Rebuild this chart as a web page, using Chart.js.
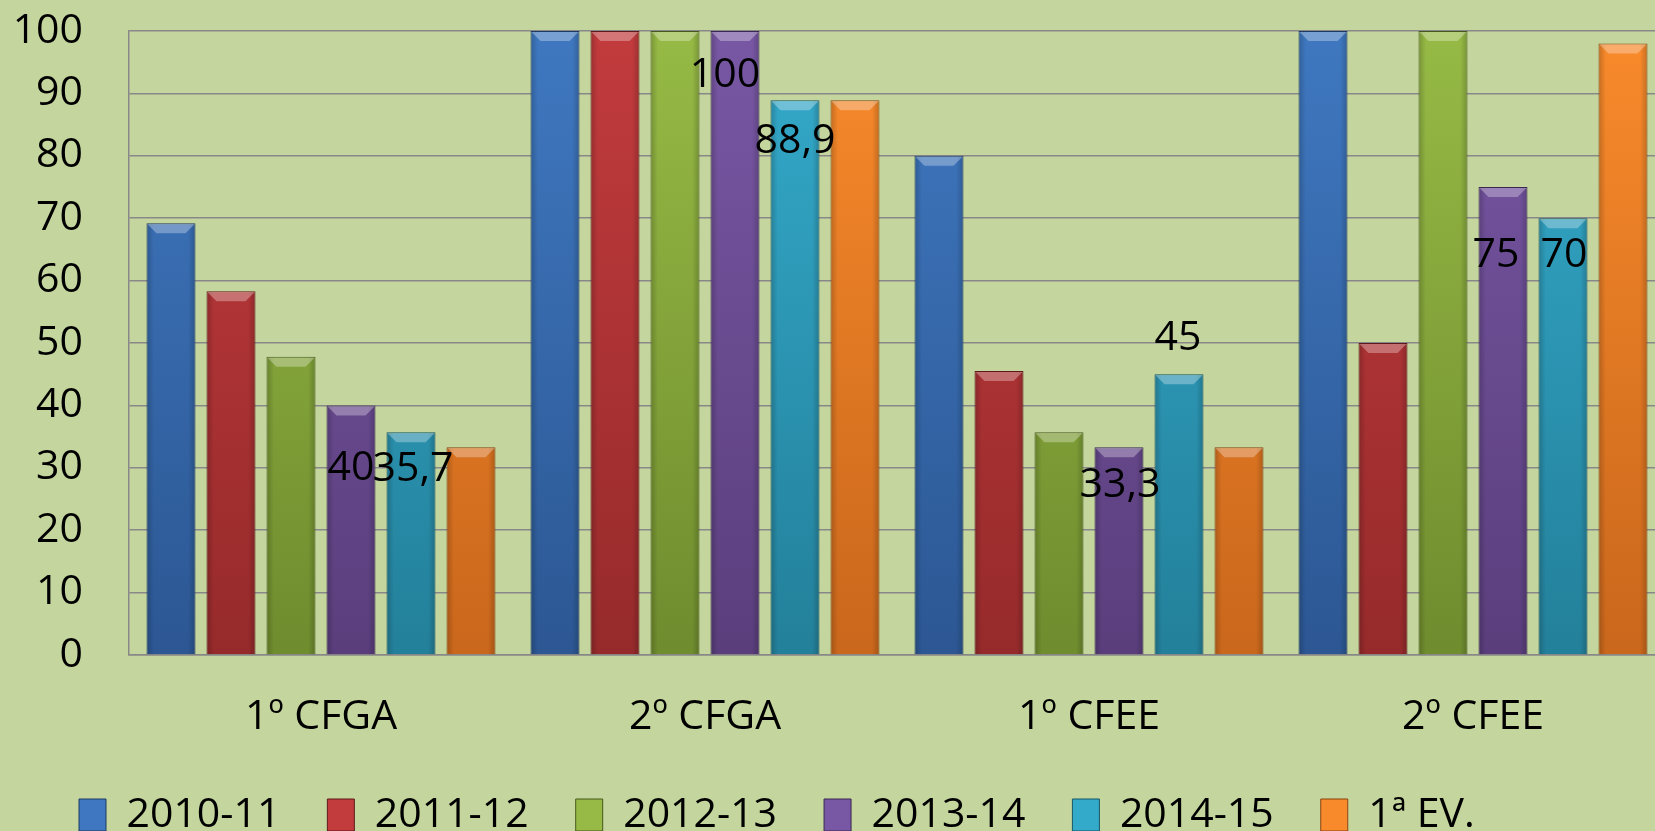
<!DOCTYPE html>
<html>
<head>
<meta charset="utf-8">
<script src="https://cdn.jsdelivr.net/npm/chart.js@4.4.1/dist/chart.umd.min.js"></script>
<style>
  html, body { margin: 0; padding: 0; background: #c4d69e; overflow: hidden; }
  #wrap { width: 1670px; height: 831px; }
</style>
</head>
<body>
<div id="wrap"><canvas id="chart"></canvas></div>
<script>
const categories = ["1º CFGA", "2º CFGA", "1º CFEE", "2º CFEE"];
const seriesNames = ["2010-11", "2011-12", "2012-13", "2013-14", "2014-15", "1ª EV."];

const v2010 = [69.2, 100, 80, 100];
const v2011 = [58.3, 100, 45.5, 50];
const v2012 = [47.8, 100, 35.7, 100];
const v2013 = [40, 100, 33.3, 75];
const v2014 = [35.7, 88.9, 45, 70];
const v1ev = [33.3, 88.9, 33.3, 98];

const yTicks = [0, 10, 20, 30, 40, 50, 60, 70, 80, 90, 100];

// only these two series carry value labels in the original
const labelledSeries = [3, 4];
// where Excel dropped each label, pixels from the bar top (x, y)
const labelShift = {
  3: [[0, 60], [-10, 41], [1, 35], [-7, 65]],
  4: [[2, 34], [0, 38], [-1, -39], [1, 34]],
};

const palette = [
  { top: "#3f78c0", bottom: "#2c5793", edge: "#1d3a63" },
  { top: "#c23b3d", bottom: "#962a2b", edge: "#5e1a1b" },
  { top: "#96ba45", bottom: "#6f8c2e", edge: "#47591d" },
  { top: "#7857a4", bottom: "#5a3e7c", edge: "#3a2852" },
  { top: "#34aacb", bottom: "#23809a", edge: "#155466" },
  { top: "#f88a2b", bottom: "#c9671c", edge: "#874412" },
];

const font = "'Open Sans', 'Liberation Sans', sans-serif";

function barFill(i) {
  return (ctx) => {
    const area = ctx.chart.chartArea;
    if (!area) return palette[i].top;
    const g = ctx.chart.ctx.createLinearGradient(0, area.top, 0, area.bottom);
    g.addColorStop(0, palette[i].top);
    g.addColorStop(1, palette[i].bottom);
    return g;
  };
}

const seriesValues = [v2010, v2011, v2012, v2013, v2014, v1ev];

const datasets = seriesValues.map((vals, i) => ({
  label: seriesNames[i],
  data: vals,
  backgroundColor: barFill(i),
  borderColor: palette[i].edge,
  borderWidth: 1,
  categoryPercentage: 0.9375,
  barPercentage: 0.817,
}));

// bevelled top + darker sides, like the Office 3D style
const bevelPlugin = {
  id: "bevel",
  afterDatasetsDraw(chart) {
    const c = chart.ctx;
    chart.data.datasets.forEach((ds, di) => {
      chart.getDatasetMeta(di).data.forEach((bar) => {
        const w = bar.width, x0 = bar.x - w / 2, x1 = bar.x + w / 2;
        const top = bar.y, bottom = bar.base, b = 10;
        c.save();
        const side = c.createLinearGradient(x0, 0, x1, 0);
        side.addColorStop(0, "rgba(0,0,0,0.2)");
        side.addColorStop(0.15, "rgba(0,0,0,0)");
        side.addColorStop(0.85, "rgba(0,0,0,0)");
        side.addColorStop(1, "rgba(0,0,0,0.2)");
        c.fillStyle = side;
        c.fillRect(x0 + 1, top + 1, w - 2, bottom - top - 1);
        c.beginPath();
        c.moveTo(x0 + 1, top + 1);
        c.lineTo(x1 - 1, top + 1);
        c.lineTo(x1 - b, top + b);
        c.lineTo(x0 + b, top + b);
        c.closePath();
        c.fillStyle = "rgba(255,255,255,0.3)";
        c.fill();
        c.restore();
      });
    });
  },
};

const valueLabels = {
  id: "valueLabels",
  afterDatasetsDraw(chart) {
    const c = chart.ctx;
    c.save();
    c.font = "41px " + font;
    c.fillStyle = "#000";
    c.textAlign = "center";
    c.textBaseline = "alphabetic";
    labelledSeries.forEach((di) => {
      chart.getDatasetMeta(di).data.forEach((bar, j) => {
        const txt = String(chart.data.datasets[di].data[j]).replace(".", ",");
        const [dx, dy] = labelShift[di][j];
        c.fillText(txt, bar.x + dx, bar.y + dy + 15);
      });
    });
    c.restore();
  },
};

// legend starts a bit right of the y axis box in the original
const legendShift = {
  id: "legendShift",
  afterLayout(chart) {
    chart.legend.left += 32;
    chart.legend.right += 32;
  },
};

new Chart(document.getElementById("chart"), {
  type: "bar",
  data: { labels: categories, datasets: datasets },
  plugins: [bevelPlugin, valueLabels, legendShift],
  options: {
    responsive: true,
    maintainAspectRatio: false,
    animation: false,
    layout: { padding: { left: 0, right: 5, top: 31, bottom: -14.5 } },
    scales: {
      x: {
        grid: { display: false, drawTicks: false },
        border: { display: true, color: "#888888", width: 1.5 },
        ticks: { color: "#000", padding: 38, font: { family: font, size: 41 } },
        afterFit(scale) { scale.height = 92.5; },
      },
      y: {
        min: 0,
        max: 100,
        afterBuildTicks(scale) { scale.ticks = yTicks.map((v) => ({ value: v })); },
        grid: { color: "#888888", lineWidth: 1.5, drawTicks: false },
        border: { display: true, color: "#888888", width: 1.5 },
        ticks: { color: "#000", padding: 46, font: { family: font, size: 41 } },
        afterFit(scale) {
          scale.width = 129;
          scale.paddingTop = 0;
          scale.paddingBottom = 0;
        },
      },
    },
    plugins: {
      tooltip: { enabled: false },
      legend: {
        position: "bottom",
        align: "start",
        labels: {
          boxWidth: 27,
          boxHeight: 32,
          padding: 47,
          color: "#000",
          font: { family: font, size: 41 },
          generateLabels(chart) {
            return Chart.defaults.plugins.legend.labels.generateLabels(chart).map((item, i) => {
              item.fillStyle = palette[i].top;
              item.strokeStyle = palette[i].edge;
              item.lineWidth = 1;
              return item;
            });
          },
        },
      },
    },
  },
});
</script>
</body>
</html>
